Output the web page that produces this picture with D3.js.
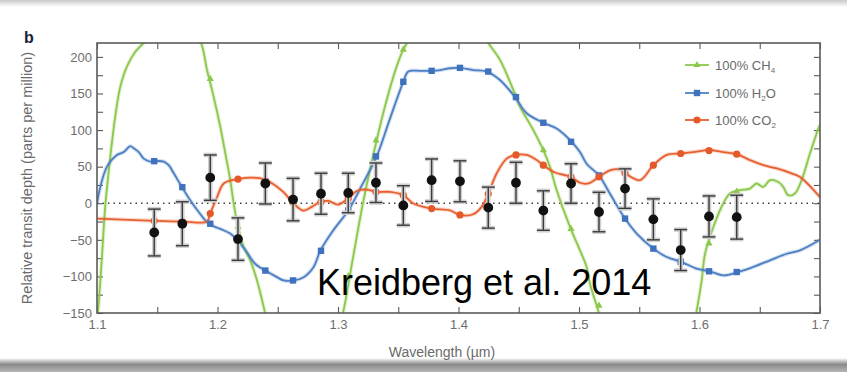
<!DOCTYPE html>
<html>
<head>
<meta charset="utf-8">
<script src="https://cdn.jsdelivr.net/npm/d3@7"></script>
<style>
  html, body { margin: 0; padding: 0; background: #fff; }
  svg { display: block; }
  text { font-family: "Liberation Sans", Arial, Helvetica, sans-serif; }
</style>
</head>
<body>
<svg id="chart" width="847" height="372"></svg>
<script>
// ---------------- DATA ----------------
// spectral bin centres (µm)
const binWl = [1.1475, 1.1708, 1.1940, 1.2170, 1.2397, 1.2627, 1.2859, 1.3085, 1.3315, 1.3542, 1.3777,
               1.4012, 1.4247, 1.4477, 1.4704, 1.4934, 1.5166, 1.5382, 1.5617, 1.5844, 1.6079, 1.6309];
// measured relative transit depth (ppm) and 1-sigma errors
const depth    = [-40, -28, 35, -49, 27, 5, 13, 14, 28, -3, 31.5, 30, -6, 28, -10, 27, -12, 20, -22, -64, -18, -19];
const depthErr = [32, 30, 31, 29, 28, 29, 28, 27, 27, 27, 29, 28, 28, 28, 27, 27, 27, 27, 28, 28, 28, 30];

// binned model values (markers)
const h2oBin = [57.5, 22, -28, -51, -92, -105.5, -65, -10, 64, 166, 181, 185, 180, 145, 110, 84, 38, -21, -62, -80, -93, -94];
const co2Bin = [-24, -25, -14, 33, 31, 1, 1.8, 6.4, 15.5, 11, -7.3, -16, 13, 66, 52, 36, 36, 41, 52, 68, 72, 67];
const ch4Bin = [235, 240, 170, -32, -160, -300, -300, -100, 86, 210, 260, 260, 222, 146, 72.6, -35, -140, -300, -300, -300, -55, 16];

// high-resolution model curves
const h2oCurveWl  = [1.1, 1.1027, 1.1083, 1.1166, 1.1222, 1.1276, 1.1305, 1.1346, 1.1388, 1.1442, 1.1476, 1.1554, 1.1595,
  1.1637, 1.1705, 1.1774, 1.1844, 1.1927, 1.2023, 1.2106, 1.2162, 1.2231, 1.2314, 1.2397, 1.2494, 1.2549, 1.2632, 1.2715,
  1.2798, 1.2853, 1.2961, 1.3085, 1.3200, 1.3321, 1.3430, 1.3542, 1.3583, 1.3680, 1.3777, 1.3850, 1.3930, 1.4012, 1.4123,
  1.4234, 1.4344, 1.4469, 1.4566, 1.4704, 1.4815, 1.4939, 1.5008, 1.5063, 1.5166, 1.5257, 1.5382, 1.5479, 1.5617, 1.5728,
  1.5852, 1.5977, 1.6087, 1.6198, 1.6322, 1.6447, 1.6585, 1.6724, 1.6834, 1.7];
const h2oCurveVal = [0, 22, 50, 66, 70, 78, 75, 70, 61, 57, 57.5, 57, 52,
  41, 22, 4, -12, -28, -35, -41.5, -50, -64, -83, -92, -101, -105.5, -105.5, -101,
  -87, -65, -37, -10, 25, 64, 115, 166, 180, 181, 181, 182, 184.5, 185, 182,
  180, 168.5, 145, 123, 110, 102, 84, 70, 54, 38, 13, -21, -41.5, -62, -73.5,
  -80.4, -89.5, -93, -98.6, -94, -87, -78, -69, -64.4, -50];

const co2CurveWl  = [1.1, 1.1476, 1.1708, 1.1913, 1.1940, 1.1997, 1.2052, 1.2170, 1.2281, 1.2392, 1.2436, 1.2546, 1.2624,
  1.2712, 1.2782, 1.2851, 1.2919, 1.3002, 1.3085, 1.3155, 1.3238, 1.3315, 1.3432, 1.3542, 1.3625, 1.3778, 1.3929, 1.4012,
  1.4123, 1.4192, 1.4247, 1.4317, 1.4400, 1.4477, 1.4566, 1.4649, 1.4704, 1.4801, 1.4934, 1.5008, 1.5077, 1.5166, 1.5257,
  1.5340, 1.5382, 1.5506, 1.5617, 1.5728, 1.5844, 1.5948, 1.6079, 1.6198, 1.6309, 1.6419, 1.6530, 1.6641, 1.6753, 1.6834,
  1.6986, 1.7];
const co2CurveVal = [-21, -24, -25, -25, -14, 8.6, 27, 33, 35, 32.5, 29, 15.5, 1,
  -10, -5, 1.8, 3.2, -1.8, 6.4, 16.8, 18.7, 15.5, 15.5, 11, -0.4, -7.3, -9.6, -16,
  -15, -5, 13, 41, 61, 66, 66, 59, 52, 42, 36, 28, 27, 36, 45,
  46, 41, 31.5, 52, 66, 68, 70, 72.6, 70, 67, 59, 52, 47.5, 41.5, 36,
  11, 8];

const ch4CurveWl  = [1.1, 1.1014, 1.1041, 1.1068, 1.1110, 1.1151, 1.1193, 1.1249, 1.1318, 1.1401, 1.1500, 1.1650, 1.1780,
  1.1857, 1.1913, 1.1968, 1.2023, 1.2065, 1.2106, 1.2134, 1.2170, 1.2218, 1.2272, 1.2328, 1.2384, 1.2410, 1.2700, 1.3020,
  1.3041, 1.3124, 1.3207, 1.3321, 1.3404, 1.3487, 1.3542, 1.3573, 1.3650, 1.3900, 1.4150, 1.4234, 1.4344, 1.4454, 1.4510,
  1.4621, 1.4704, 1.4759, 1.4815, 1.4925, 1.5008, 1.5063, 1.5091, 1.5160, 1.5180, 1.5600, 1.5960, 1.5977, 1.6018, 1.6046,
  1.6115, 1.6198, 1.6253, 1.6336, 1.6419, 1.6474, 1.6529, 1.6585, 1.6654, 1.6695, 1.6736, 1.6792, 1.6847, 1.6917, 1.6986, 1.7];
const ch4CurveVal = [-160, -137, -73.5, -5, 63, 118, 159, 187, 207, 221, 235, 240, 232,
  221, 182, 145.6, 104.5, 68, 31.5, 0, -32, -60, -78, -105.5, -142, -160, -250, -160,
  -150, -75, 0, 86, 141, 187, 210, 219, 240, 265, 245, 222, 196, 155, 132,
  100, 72.6, 49.7, 17.8, -32.4, -64.4, -87, -110, -147, -160, -300, -160, -146.6, -105.5, -69,
  -32.4, 0, 13.3, 17.8, 20, 27, 22.3, 31.5, 29, 22.3, 11, 13.3, 31.5, 68, 102, 107];

const xTicks = [1.1, 1.15, 1.2, 1.25, 1.3, 1.35, 1.4, 1.45, 1.5, 1.55, 1.6, 1.65, 1.7];
const xTickLabels = ["1.1", "", "1.2", "", "1.3", "", "1.4", "", "1.5", "", "1.6", "", "1.7"];
const yTicks = [-150, -125, -100, -75, -50, -25, 0, 25, 50, 75, 100, 125, 150, 175, 200];
const yTickLabels = ["\u2212150", "", "\u2212100", "", "\u221250", "", "0", "", "50", "", "100", "", "150", "", "200"];

const seriesNames = ["100% CH", "100% H", "100% CO"];
const seriesSubs  = ["4", "2", "2"];
const seriesTails = ["", "O", ""];
const xLabel = "Wavelength (\u00b5m)";
const yLabel = "Relative transit depth (parts per million)";
const panelLetter = "b";
const credit = "Kreidberg et al. 2014";

// ---------------- LAYOUT ----------------
const W = 847, H = 372;
const L = 97, R = 820, T = 43, B = 313;
const colGreen = "#8cc84b", colBlue = "#4d7fc4", colRed = "#e8602f";
const axisCol = "#5a5a5a";

const svg = d3.select("#chart");
const x = d3.scaleLinear().domain([1.1, 1.7]).range([L, R]);
const y = d3.scaleLinear().domain([-150, 219]).range([B, T]);

// paper-like edges
const defs = svg.append("defs");
const gTop = defs.append("linearGradient").attr("id", "gtop").attr("x1", 0).attr("x2", 0).attr("y1", 0).attr("y2", 1);
gTop.append("stop").attr("offset", "0%").attr("stop-color", "#c9c9c9");
gTop.append("stop").attr("offset", "100%").attr("stop-color", "#ffffff");
const gBot = defs.append("linearGradient").attr("id", "gbot").attr("x1", 0).attr("x2", 0).attr("y1", 0).attr("y2", 1);
gBot.append("stop").attr("offset", "0%").attr("stop-color", "#ffffff");
gBot.append("stop").attr("offset", "45%").attr("stop-color", "#8a8a8a");
gBot.append("stop").attr("offset", "100%").attr("stop-color", "#b5b5b5");
svg.append("rect").attr("x", 0).attr("y", 0).attr("width", W).attr("height", H).attr("fill", "#fff");
svg.append("rect").attr("x", 0).attr("y", 0).attr("width", W).attr("height", 7).attr("fill", "url(#gtop)");
svg.append("rect").attr("x", 0).attr("y", 358).attr("width", W).attr("height", 14).attr("fill", "url(#gbot)");

defs.append("clipPath").attr("id", "plotclip")
  .append("rect").attr("x", L).attr("y", T).attr("width", R - L).attr("height", B - T);

// axes (inward ticks on all four sides)
function styleAxis(g) {
  g.select(".domain").remove();
  g.selectAll(".tick line").attr("stroke", axisCol).attr("stroke-width", 1.1);
  g.selectAll(".tick text").attr("fill", "#6e6e6e").style("font-size", "13px");
}
svg.append("g").attr("transform", `translate(0,${B})`)
  .call(d3.axisBottom(x).tickValues(xTicks).tickSize(-6).tickPadding(7)
        .tickFormat((d, i) => xTickLabels[i]))
  .call(styleAxis);
svg.append("g").attr("transform", `translate(0,${T})`)
  .call(d3.axisTop(x).tickValues(xTicks).tickSize(-6).tickFormat(""))
  .call(styleAxis);
svg.append("g").attr("transform", `translate(${L},0)`)
  .call(d3.axisLeft(y).tickValues(yTicks).tickSize(-6).tickPadding(5)
        .tickFormat((d, i) => yTickLabels[i]))
  .call(styleAxis);
svg.append("g").attr("transform", `translate(${R},0)`)
  .call(d3.axisRight(y).tickValues(yTicks).tickSize(-6).tickFormat(""))
  .call(styleAxis);

// zero line
svg.append("line").attr("x1", L).attr("x2", R).attr("y1", y(0)).attr("y2", y(0))
  .attr("stroke", "#444").attr("stroke-width", 1.3).attr("stroke-dasharray", "1.5,4");

// model curves
const plot = svg.append("g").attr("clip-path", "url(#plotclip)");
const line = d3.line().x(d => x(d[0])).y(d => y(d[1])).curve(d3.curveCatmullRom.alpha(0.5));

function drawCurve(wl, val, col) {
  const pts = wl.map((w, i) => [w, val[i]]);
  plot.append("path").attr("d", line(pts)).attr("fill", "none")
    .attr("stroke", col).attr("stroke-opacity", 0.25).attr("stroke-width", 4);
  plot.append("path").attr("d", line(pts)).attr("fill", "none")
    .attr("stroke", col).attr("stroke-width", 1.8);
}
drawCurve(ch4CurveWl, ch4CurveVal, colGreen);
drawCurve(h2oCurveWl, h2oCurveVal, colBlue);
drawCurve(co2CurveWl, co2CurveVal, colRed);

// markers
const tri = d3.symbol().type(d3.symbolTriangle).size(22);
plot.selectAll(".m-ch4").data(binWl).join("path")
  .attr("transform", (d, i) => `translate(${x(d)},${y(ch4Bin[i])})`)
  .attr("d", tri()).attr("fill", colGreen);
plot.selectAll(".m-h2o").data(binWl).join("rect")
  .attr("x", d => x(d) - 3.2).attr("y", (d, i) => y(h2oBin[i]) - 3.2)
  .attr("width", 6.4).attr("height", 6.4).attr("fill", "#3f72bd");
plot.selectAll(".m-co2").data(binWl).join("circle")
  .attr("cx", d => x(d)).attr("cy", (d, i) => y(co2Bin[i])).attr("r", 3.6).attr("fill", "#e4592a");

// data with error bars
const eb = svg.append("g");
binWl.forEach((w, i) => {
  const cx = x(w), y1 = y(depth[i] + depthErr[i]), y2 = y(depth[i] - depthErr[i]);
  [["#cfcfcf", 4.5], ["#3a3a3a", 1.4]].forEach(([c, sw]) => {
    eb.append("line").attr("x1", cx).attr("x2", cx).attr("y1", y1).attr("y2", y2).attr("stroke", c).attr("stroke-width", sw);
    eb.append("line").attr("x1", cx - 6.5).attr("x2", cx + 6.5).attr("y1", y1).attr("y2", y1).attr("stroke", c).attr("stroke-width", sw);
    eb.append("line").attr("x1", cx - 6.5).attr("x2", cx + 6.5).attr("y1", y2).attr("y2", y2).attr("stroke", c).attr("stroke-width", sw);
  });
});
eb.selectAll("circle").data(binWl).join("circle")
  .attr("cx", d => x(d)).attr("cy", (d, i) => y(depth[i])).attr("r", 4.9).attr("fill", "#111");

// frame
svg.append("rect").attr("x", L).attr("y", T).attr("width", R - L).attr("height", B - T)
  .attr("fill", "none").attr("stroke", axisCol).attr("stroke-width", 1.6);

// legend
const legCols = [colGreen, colBlue, colRed];
const legY = [65, 93, 120];
const leg = svg.append("g");
legCols.forEach((c, i) => {
  leg.append("line").attr("x1", 685).attr("x2", 709).attr("y1", legY[i]).attr("y2", legY[i])
    .attr("stroke", c).attr("stroke-width", 1.8);
  const mx = 697;
  if (i === 0) leg.append("path").attr("transform", `translate(${mx},${legY[i]})`).attr("d", tri()).attr("fill", c);
  if (i === 1) leg.append("rect").attr("x", mx - 3.2).attr("y", legY[i] - 3.2).attr("width", 6.4).attr("height", 6.4).attr("fill", "#3f72bd");
  if (i === 2) leg.append("circle").attr("cx", mx).attr("cy", legY[i]).attr("r", 3.6).attr("fill", "#e4592a");
  const t = leg.append("text").attr("x", 715).attr("y", legY[i] + 4.5).attr("fill", "#6a6a6a").style("font-size", "13px");
  t.append("tspan").text(seriesNames[i]);
  t.append("tspan").attr("dy", 3).style("font-size", "8px").text(seriesSubs[i]);
  if (seriesTails[i]) t.append("tspan").attr("dy", -3).text(seriesTails[i]);
});

// axis labels
svg.append("text").attr("x", 442).attr("y", 357).attr("text-anchor", "middle")
  .attr("fill", "#6a6a6a").style("font-size", "14px").text(xLabel);
svg.append("text").attr("transform", `translate(32,${(T + B) / 2}) rotate(-90)`).attr("text-anchor", "middle")
  .attr("fill", "#6a6a6a").style("font-size", "14.5px").text(yLabel);

// panel letter
svg.append("text").attr("x", 24).attr("y", 43).attr("fill", "#1c1c3a")
  .style("font-size", "16px").style("font-weight", "bold").text(panelLetter);

// credit
svg.append("text").attr("x", 317).attr("y", 295).attr("fill", "#000")
  .style("font-size", "36px").text(credit);
</script>
</body>
</html>
